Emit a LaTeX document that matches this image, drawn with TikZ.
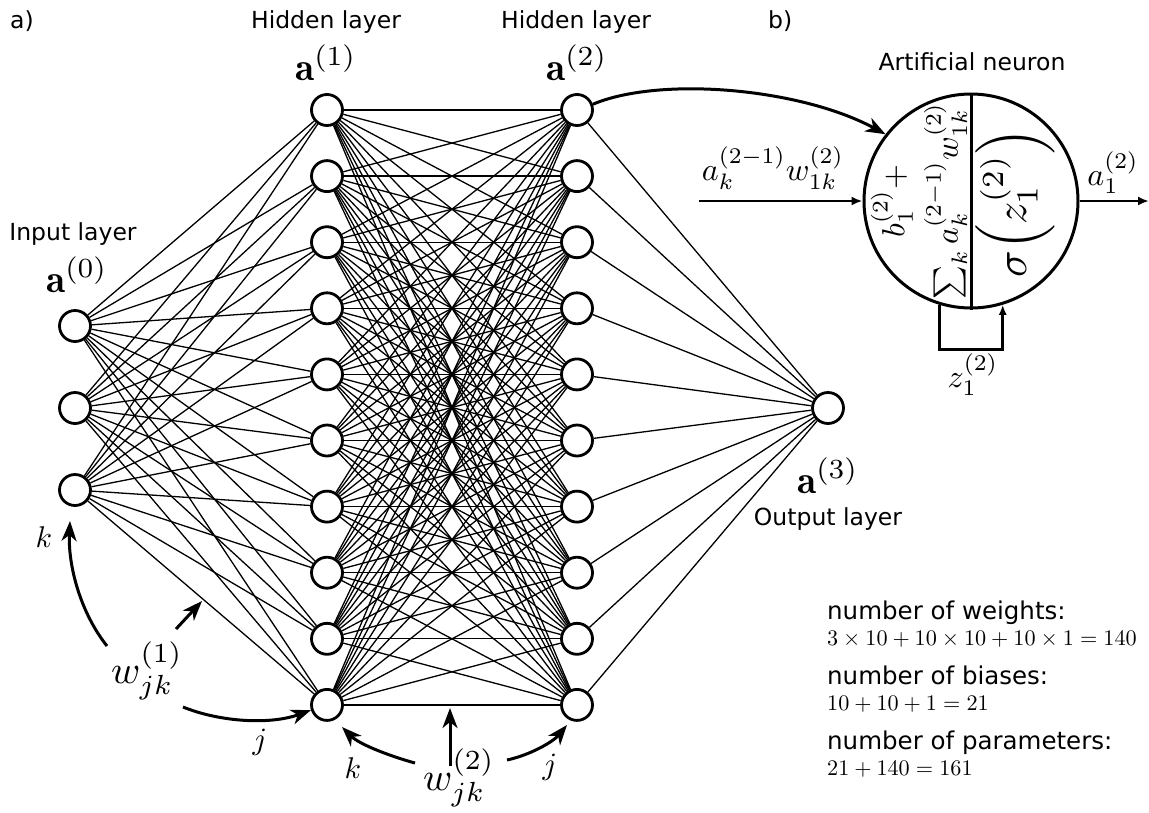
\RequirePackage{fix-cm}
\documentclass[tikz,border=0pt]{standalone}
\usepackage{graphicx}
\usepackage{fontspec}
\DeclareFontShape{OMX}{cmex}{m}{n}{<->cmex10}{}
\newfontfamily\dejavu{DejaVu Sans}
\newcommand{\sm}[2]{\scalebox{#1}{$#2$}}
\usetikzlibrary{arrows.meta}
\begin{document}
\begin{tikzpicture}[x=1pt,y=-1pt,
  neur/.style={circle, draw, line width=2.8pt, minimum size=31pt, inner sep=0pt, fill=white},
  conn/.style={line width=1.3pt},
  lbl/.style={font=\dejavu\fontsize{23.5}{27}\selectfont, inner sep=0pt},
  lblb/.style={font=\dejavu\fontsize{24.5}{28}\selectfont, inner sep=0pt},
  mth/.style={font=\fontsize{10}{12}\selectfont, inner sep=0pt},
  annarrow/.style={line width=3pt, -{Stealth[length=20pt,width=15pt,inset=6pt]}},
  smallarrow/.style={line width=2.5pt, -{Latex[length=11pt,width=9pt]}}
]
\useasboundingbox (0,0) rectangle (1149,812);

% network nodes
\foreach \i/\y in {1/326,2/408,3/490} \node[neur] (in\i) at (75,\y) {};
\foreach \j in {1,...,10} {
  \node[neur] (ha\j) at (327,{110+66.1*(\j-1)}) {};
  \node[neur] (hb\j) at (577,{110+66.1*(\j-1)}) {};
}
\node[neur] (out) at (828,408) {};

% connections
\foreach \i in {1,2,3} \foreach \j in {1,...,10} \draw[conn] (in\i) -- (ha\j);
\foreach \i in {1,...,10} \foreach \j in {1,...,10} \draw[conn] (ha\i) -- (hb\j);
\foreach \j in {1,...,10} \draw[conn] (hb\j) -- (out);

% labels panel a
\node[lbl, anchor=base west] (pa) at (10,28) {a)};
\node[lbl, anchor=base west] (pb) at (768,28) {b)};
\node[lbl, anchor=base] (hl1) at (326,28) {Hidden layer};
\node[lbl, anchor=base] (hl2) at (576,28) {Hidden layer};
\node[mth, anchor=base] (a1) at (326,80) {\sm{3.95}{\mathbf{a}^{(1)}}};
\node[mth, anchor=base] (a2) at (577,80) {\sm{3.95}{\mathbf{a}^{(2)}}};
\node[lbl, anchor=base] (il) at (73,240) {Input layer};
\node[mth, anchor=base] (a0) at (77,292) {\sm{3.95}{\mathbf{a}^{(0)}}};
\node[mth, anchor=base] (a3) at (828,493) {\sm{3.95}{\mathbf{a}^{(3)}}};
\node[lbl, anchor=base] (ol) at (828,525) {Output layer};

% weight annotations
\node[mth] (k1) at (44,537) {\sm{3.0}{k}};
\node[mth, anchor=base west] (w1) at (111,683) {\sm{3.95}{w_{jk}^{(1)}}};
\node[mth] (j1) at (260,742) {\sm{3.1}{j}};
\coordinate (kA) at (107,646);
\coordinate (kT) at (70,521);
\draw[annarrow] (kA) .. controls (80,612) and (68,565) .. (kT);
\coordinate (wA) at (176,629);
\coordinate (wT) at (202,601);
\draw[annarrow] (wA) -- (wT);
\coordinate (jA) at (183,707);
\draw[annarrow] (jA) .. controls (220,722) and (270,725) .. (ha10.198);

\node[mth] (k2) at (353,768) {\sm{3.0}{k}};
\node[mth, anchor=base west] (w2) at (423,790) {\sm{3.95}{w_{jk}^{(2)}}};
\node[mth] (j2) at (550,767) {\sm{3.1}{j}};
\coordinate (lA) at (415,763);
\coordinate (lT) at (342,727);
\draw[annarrow] (lA) .. controls (393,757) and (360,745) .. (lT);
\coordinate (vA) at (450,766);
\coordinate (vT) at (450,708);
\draw[annarrow] (vA) -- (vT);
\coordinate (rA) at (507,760);
\coordinate (rT) at (567,725);
\draw[annarrow] (rA) .. controls (530,755) and (553,742) .. (rT);

% panel b: neuron
\node[lbl, anchor=base] (an) at (972,70) {Artificial neuron};
\node[circle, draw, line width=3pt, minimum size=214pt, inner sep=0pt] (neuron) at (971,201) {};
\draw[line width=3pt] (neuron.north) -- (neuron.south);
\node[mth, rotate=90] (sumtxt) at (920,201)
  {\scalebox{3.2}{\begin{tabular}{@{}c@{}}$b_1^{(2)}+$\\[2.6pt]$\sum_k a_k^{(2-1)}w_{1k}^{(2)}$\end{tabular}}};
\node[mth, rotate=90] (acttxt) at (1015,203) {\sm{4.4}{\sigma\Bigl(z_1^{(2)}\Bigr)}};

\draw[annarrow] (hb1.20) .. controls (660,76) and (800,88) .. (neuron.142);

\coordinate (iStart) at (699,201);
\draw[smallarrow] (iStart) -- (neuron.west);
\node[mth, anchor=base] (inlbl) at (773,180) {\sm{3.2}{a_k^{(2-1)}w_{1k}^{(2)}}};
\coordinate (oEnd) at (1149,201);
\draw[smallarrow] (neuron.east) -- (oEnd);
\node[mth, anchor=base] (outlbl) at (1113,185) {\sm{3.2}{a_1^{(2)}}};

\draw[line width=3pt, -{Latex[length=10pt,width=8pt]}] (neuron.-107) -- ++(0,45) -| (neuron.-73);
\node[mth, anchor=base] (zlbl) at (973,387) {\sm{3.2}{z_1^{(2)}}};

% parameter counts
\node[lblb, anchor=base west] (t1) at (827,619) {number of weights:};
\node[mth, anchor=base west] (m1) at (827,645) {\sm{2.22}{3\times10+10\times10+10\times1=140}};
\node[lblb, anchor=base west] (t2) at (827,684) {number of biases:};
\node[mth, anchor=base west] (m2) at (827,710) {\sm{2.22}{10+10+1=21}};
\node[lblb, anchor=base west] (t3) at (827,749) {number of parameters:};
\node[mth, anchor=base west] (m3) at (827,775) {\sm{2.22}{21+140=161}};
\end{tikzpicture}
\end{document}
